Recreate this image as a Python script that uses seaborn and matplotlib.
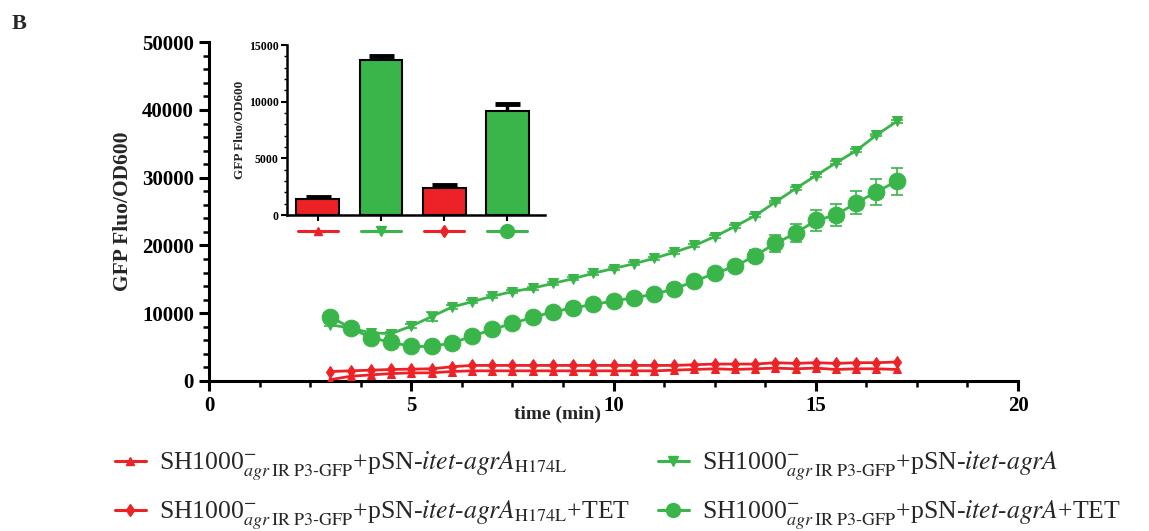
import numpy as np
import pandas as pd
import matplotlib
matplotlib.use("Agg")
import matplotlib.pyplot as plt
import matplotlib.transforms as mtransforms
from matplotlib.ticker import AutoMinorLocator, MultipleLocator
from matplotlib.lines import Line2D
import seaborn as sns

sns.set_theme(style="ticks")
plt.rcParams['font.family'] = ['Liberation Serif', 'DejaVu Serif']
plt.rcParams['mathtext.fontset'] = 'stix'

# ---------------------------------------------------------------
# Datos
# ---------------------------------------------------------------
tiempo = [3, 3.5, 4, 4.5, 5, 5.5, 6, 6.5, 7, 7.5, 8, 8.5, 9, 9.5, 10,
          10.5, 11, 11.5, 12, 12.5, 13, 13.5, 14, 14.5, 15, 15.5, 16, 16.5, 17]

agrA = [8300, 7800, 7100, 7000, 8100, 9500, 10900, 11700, 12500, 13200,
        13700, 14400, 15100, 15900, 16600, 17300, 18100, 19000, 20000, 21300,
        22800, 24400, 26400, 28400, 30300, 32200, 34000, 36300, 38300]
agrA_err = [200, 200, 200, 300, 300, 650, 300, 200, 200, 200,
            200, 200, 200, 200, 200, 200, 200, 200, 200, 200,
            200, 200, 200, 200, 200, 200, 200, 200, 200]

agrA_tet = [9500, 7800, 6400, 5700, 5100, 5100, 5600, 6600, 7600, 8500,
            9400, 10200, 10800, 11300, 11800, 12300, 12800, 13600, 14700, 15900,
            16900, 18500, 20300, 21800, 23700, 24500, 26300, 27900, 29500]
agrA_tet_err = [300, 300, 300, 300, 300, 300, 300, 300, 300, 300,
                300, 300, 300, 300, 300, 300, 300, 400, 500, 600,
                700, 900, 1300, 1300, 1500, 1600, 1700, 1900, 2000]

h174l = [200, 700, 900, 1100, 1200, 1200, 1400, 1500, 1500, 1500,
         1500, 1500, 1500, 1500, 1500, 1500, 1500, 1600, 1700, 1800,
         1700, 1800, 1900, 1800, 1900, 1700, 1800, 1800, 1700]
h174l_tet = [1400, 1500, 1600, 1700, 1750, 1800, 2100, 2300, 2300, 2300,
             2300, 2300, 2300, 2300, 2300, 2300, 2300, 2300, 2400, 2500,
             2500, 2500, 2700, 2600, 2700, 2600, 2700, 2700, 2800]

# Inserto: barras
barras_id = ['h174l', 'agrA', 'h174l_tet', 'agrA_tet']
barras_valor = [1400, 13700, 2400, 9200]
barras_err = [180, 300, 250, 600]

ROJO = '#EC2227'
VERDE = '#3AB54A'

etiquetas = {
    'h174l': r'SH1000$^{-}_{\mathit{agr}\,\mathrm{IR\ P3}\text{-}\mathrm{GFP}}$+pSN-$\mathit{itet}\text{-}\mathit{agrA}_{\mathrm{H174L}}$',
    'h174l_tet': r'SH1000$^{-}_{\mathit{agr}\,\mathrm{IR\ P3}\text{-}\mathrm{GFP}}$+pSN-$\mathit{itet}\text{-}\mathit{agrA}_{\mathrm{H174L}}$+TET',
    'agrA': r'SH1000$^{-}_{\mathit{agr}\,\mathrm{IR\ P3}\text{-}\mathrm{GFP}}$+pSN-$\mathit{itet}\text{-}\mathit{agrA}$',
    'agrA_tet': r'SH1000$^{-}_{\mathit{agr}\,\mathrm{IR\ P3}\text{-}\mathrm{GFP}}$+pSN-$\mathit{itet}\text{-}\mathit{agrA}$+TET',
}

estilos = {
    'h174l': dict(color=ROJO, marker='^', ms=6),
    'h174l_tet': dict(color=ROJO, marker='d', ms=6),
    'agrA': dict(color=VERDE, marker='v', ms=7),
    'agrA_tet': dict(color=VERDE, marker='o', ms=12),
}

series = {'h174l': (h174l, None), 'h174l_tet': (h174l_tet, None),
          'agrA': (agrA, agrA_err), 'agrA_tet': (agrA_tet, agrA_tet_err)}

# ---------------------------------------------------------------
# Figura principal
# ---------------------------------------------------------------
fig = plt.figure(figsize=(11.49, 5.31), dpi=100)
ax = fig.add_axes([0.182, 0.2825, 0.704, 0.638])

handles = {}
for key in ['h174l', 'h174l_tet', 'agrA', 'agrA_tet']:
    vals, err = series[key]
    st = estilos[key]
    if err is not None:
        ax.errorbar(tiempo, vals, yerr=err, fmt='none', ecolor=st['color'],
                    elinewidth=1.2, capsize=4, capthick=1.2, zorder=2)
    sns.lineplot(x=tiempo, y=vals, ax=ax, color=st['color'], marker=st['marker'],
                 markersize=st['ms'], markeredgecolor=st['color'], linewidth=2,
                 zorder=3)
    handles[key] = Line2D([], [], color=st['color'], marker=st['marker'],
                          markersize=st['ms'] if key != 'agrA_tet' else 10,
                          linewidth=2.2)

ax.set_xlim(0, 20)
ax.set_ylim(0, 50000)
ax.xaxis.set_major_locator(MultipleLocator(5))
ax.xaxis.set_minor_locator(AutoMinorLocator(4))
ax.yaxis.set_major_locator(MultipleLocator(10000))
ax.yaxis.set_minor_locator(AutoMinorLocator(5))
sns.despine(ax=ax)
for s in ['left', 'bottom']:
    ax.spines[s].set_linewidth(2.2)
    ax.spines[s].set_color('black')
ax.tick_params(which='major', direction='out', length=7, width=2.2, colors='black',
               labelsize=15, pad=4)
ax.tick_params(which='minor', direction='out', length=4, width=1.8, colors='black')
for lab in ax.get_xticklabels() + ax.get_yticklabels():
    lab.set_fontweight('bold')
ax.set_ylabel('GFP Fluo/OD600', fontsize=15.5, fontweight='bold')
ax.yaxis.set_label_coords(-0.094, 0.5)
ax.set_xlabel('time (min)', fontsize=14, fontweight='bold')
ax.xaxis.set_label_coords(0.431, -0.072)

fig.text(0.010, 0.955, 'B', fontsize=16, fontweight='bold', va='center')

# ---------------------------------------------------------------
# Inserto de barras
# ---------------------------------------------------------------
axi = fig.add_axes([0.2498, 0.595, 0.2245, 0.320])
colores_barras = [ROJO, VERDE, ROJO, VERDE]
df_bar = pd.DataFrame({'id': barras_id, 'valor': barras_valor})
axi.errorbar(range(len(barras_id)), barras_valor, yerr=barras_err, fmt='none',
             ecolor='black', elinewidth=2.5, capsize=9, capthick=3.5, zorder=1)
sns.barplot(data=df_bar, x='id', y='valor', hue='id', palette=colores_barras,
            legend=False, width=0.68, edgecolor='black', linewidth=1.5,
            saturation=1, ax=axi, zorder=2)
axi.set_xlim(-0.49, 3.6)
axi.set_ylim(0, 15000)
axi.yaxis.set_major_locator(MultipleLocator(5000))
axi.yaxis.set_minor_locator(MultipleLocator(1000))
sns.despine(ax=axi)
for s in ['left', 'bottom']:
    axi.spines[s].set_linewidth(1.8)
    axi.spines[s].set_color('black')
axi.tick_params(which='major', direction='out', length=4, width=1.5, colors='black',
                labelsize=8.5, pad=2)
axi.tick_params(which='minor', direction='out', length=2, width=1, colors='black')
axi.set_xticklabels([])
for lab in axi.get_yticklabels():
    lab.set_fontweight('bold')
axi.set_xlabel('')
axi.set_ylabel('GFP Fluo/OD600', fontsize=9.5, fontweight='bold', labelpad=2)

# iconos bajo cada barra
trans = mtransforms.blended_transform_factory(axi.transData, axi.transAxes)
for i, key in enumerate(barras_id):
    st = estilos[key]
    axi.plot([i - 0.32, i + 0.32], [-0.095, -0.095], color=st['color'], lw=2.2,
             transform=trans, clip_on=False)
    axi.plot([i], [-0.095], color=st['color'], marker=st['marker'],
             markersize=st['ms'] if key != 'agrA_tet' else 10,
             transform=trans, clip_on=False)

# ---------------------------------------------------------------
# Leyenda
# ---------------------------------------------------------------
orden = ['h174l', 'h174l_tet', 'agrA', 'agrA_tet']
fig.legend([handles[k] for k in orden], [etiquetas[k] for k in orden],
           ncol=2, loc='upper left', bbox_to_anchor=(0.100, 0.152),
           frameon=False, fontsize=18.5, handlelength=1.2, handletextpad=0.5,
           columnspacing=1.1, labelspacing=0.6, borderpad=0, borderaxespad=0)

fig.savefig('out.png', dpi=100)
